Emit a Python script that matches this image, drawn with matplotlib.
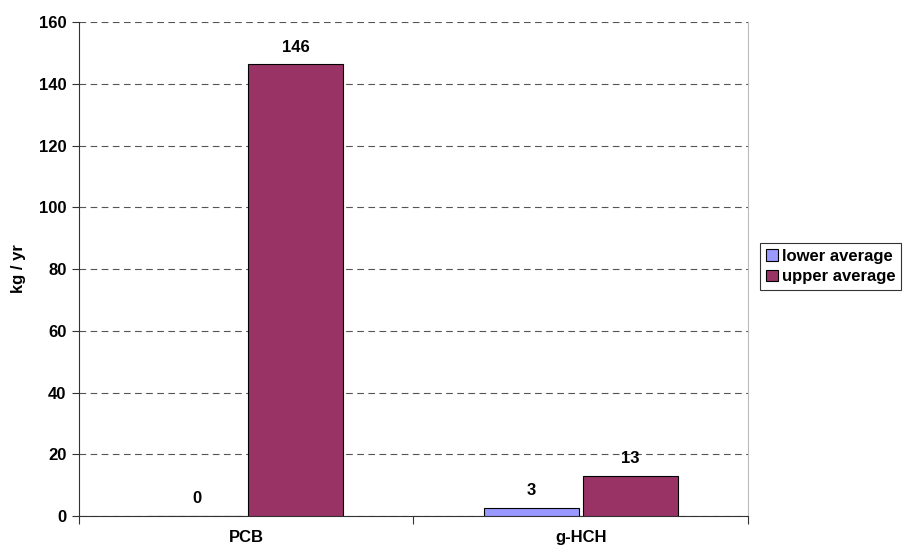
import numpy as np
import matplotlib.pyplot as plt

plt.rcParams['font.family'] = ['Liberation Sans', 'DejaVu Sans']

categories = ['PCB', 'g-HCH']
lower_avg = [0, 2.7]
upper_avg = [146.3, 13.1]
lower_labels = ['0', '3']
upper_labels = ['146', '13']

fig = plt.figure(figsize=(9.06, 5.45), dpi=100)
ax = fig.add_axes([0.0872, 0.0532, 0.7384, 0.9064])

x = np.arange(len(categories))
w = 0.284
off = 0.148
b1 = ax.bar(x - off, lower_avg, w, color='#9999FF', edgecolor='black', linewidth=0.8,
            label='lower average', zorder=3)
b2 = ax.bar(x + off, upper_avg, w, color='#993366', edgecolor='black', linewidth=0.8,
            label='upper average', zorder=3)

for bars, labels in ((b1, lower_labels), (b2, upper_labels)):
    for rect, txt in zip(bars, labels):
        ax.annotate(txt, (rect.get_x() + rect.get_width() / 2, rect.get_height()),
                    xytext=(0, 7), textcoords='offset points', ha='center', va='bottom',
                    fontsize=12, fontweight='bold')

ax.set_xlim(-0.5, 1.5)
ax.set_ylim(0, 160)
ax.set_yticks(np.arange(0, 161, 20))
ax.yaxis.grid(True, linestyle=(0, (6, 4)), color='#555555', linewidth=0.8, zorder=0)

ax.set_xticks([-0.5, 0.5, 1.5])
ax.set_xticklabels([])
ax.set_xticks(x, minor=True)
ax.set_xticklabels(categories, minor=True)
ax.tick_params(axis='x', which='major', length=6, direction='out', color='#333333')
ax.tick_params(axis='x', which='minor', length=0, pad=10)
ax.tick_params(axis='y', length=5, direction='out', color='#333333', pad=4)
for lbl in ax.get_xticklabels(minor=True) + ax.get_yticklabels():
    lbl.set_fontweight('bold')
    lbl.set_fontsize(12)

ax.spines['top'].set_visible(False)
ax.spines['right'].set_color('#BBBBBB')
ax.spines['left'].set_color('#333333')
ax.spines['bottom'].set_color('#333333')

ax.set_ylabel('kg / yr', fontsize=12, fontweight='bold', labelpad=9)

leg = ax.legend(loc='center left', bbox_to_anchor=(1.018, 0.505), frameon=True, fancybox=False,
                edgecolor='black', prop={'weight': 'bold', 'size': 12},
                handlelength=0.7, handleheight=0.7, handletextpad=0.25, borderpad=0.35,
                labelspacing=0.35, borderaxespad=0)
leg.get_frame().set_linewidth(0.8)

fig.savefig('out.png', dpi=100)
